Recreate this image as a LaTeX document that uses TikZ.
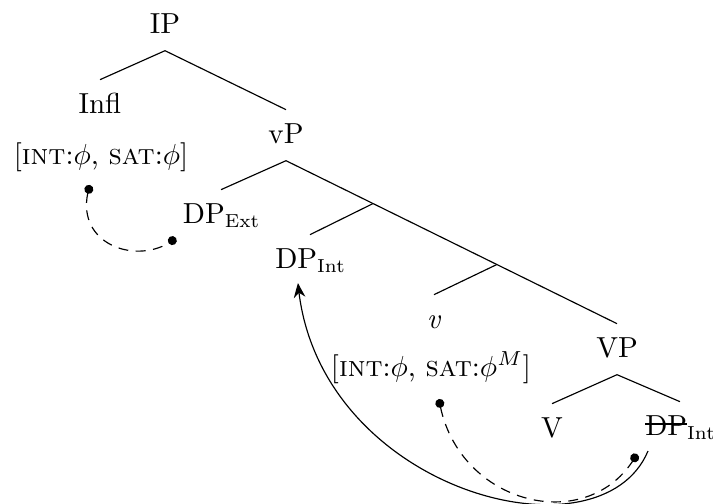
\documentclass[tikz,border=0pt]{standalone}
\usetikzlibrary{arrows.meta,bending,calc}
\newsavebox\strbox
\newcommand{\struck}[1]{\sbox\strbox{#1}\rlap{\rule[3.6pt]{\wd\strbox}{0.45pt}}\usebox\strbox}
\newcommand{\idx}[1]{\raisebox{-1.7pt}{\fontsize{6.5}{7}\selectfont #1}}
\begin{document}
\begin{tikzpicture}[x=0.345pt, y=-0.345pt, >={Stealth[length=5pt,width=4pt,bend]},
    cat/.style={anchor=base, inner xsep=0pt, inner ysep=4.3pt, text height=7pt, text depth=1.6pt},
    feat/.style={anchor=base, inner sep=0pt},
    agree/.style={dash pattern=on 3.4pt off 2.6pt, {Circle[length=3.1pt]}-{Circle[length=3.1pt]}}]
    \useasboundingbox (0,0) rectangle (713,503);
    \node[cat] (IP) at (165,33) {IP};
    \node[cat] (Infl) at (100,113) {Infl};
    \node[feat] (fInfl) at (101,164) {[\textsc{int}:$\phi$, \textsc{sat}:$\phi$]};
    \node[cat] (vP) at (286,143) {vP};
    \node[cat] (DPext) at (221,223) {DP\idx{Ext}};
    \node[cat] (DPint) at (310,268) {DP\idx{Int}};
    \node[cat] (v) at (434,328) {\textit{v}};
    \node[feat] (fv) at (431,376) {[\textsc{int}:$\phi$, \textsc{sat}:$\phi^M$]};
    \node[cat] (VP) at (617,357) {VP};
    \node[cat] (V) at (552,437) {V};
    \node[cat] (DPcopy) at (680,435) {\struck{DP}\idx{Int}};
    \coordinate (vbarA) at ($(vP.south)!0.263!(VP.north)$);
    \coordinate (vbarB) at ($(vP.south)!0.637!(VP.north)$);
    \draw (Infl.north) -- (IP.south) -- (vP.north);
    \draw (DPext.north) -- (vP.south) -- (VP.north);
    \draw (vbarA) -- (DPint.north);
    \draw (vbarB) -- (v.north);
    \draw (V.north) -- (VP.south) -- (DPcopy.north);
    \draw[agree] ([shift={(-11,21)}]fInfl.base) .. controls +(-20,60) and +(-36,30) .. ([shift={(-45,15)}]DPext.base);
    \draw[->] ([shift={(-32,16)}]DPcopy.base) .. controls +(-48,115) and +(17,207) .. ([shift={(-12,15)}]DPint.base);
    \draw[agree] ([shift={(8,23)}]fv.base) .. controls +(16,106) and +(-47,85) .. ([shift={(-43,19)}]DPcopy.base);
\end{tikzpicture}
\end{document}
